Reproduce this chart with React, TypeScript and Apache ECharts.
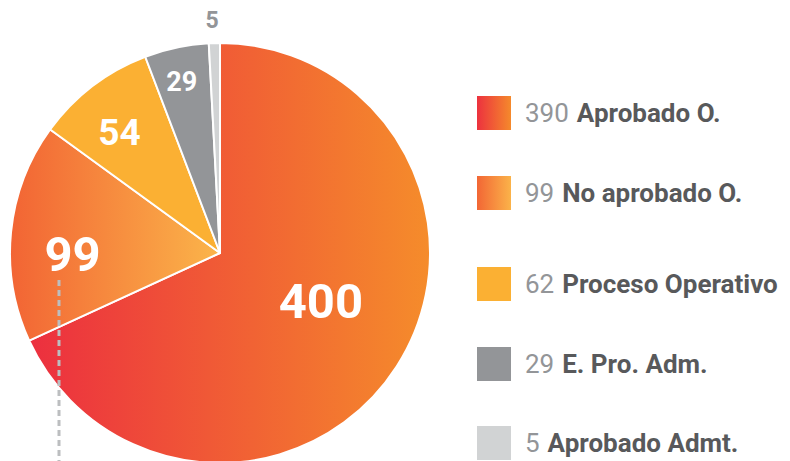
import React, { useEffect, useRef } from "react";
import * as echarts from "echarts";

const sliceNames = ["Aprobado O.", "No aprobado O.", "Proceso Operativo", "E. Pro. Adm.", "Aprobado Admt."];
const sliceValues = [400, 99, 54, 29, 5];
const legendNumbers = [390, 99, 62, 29, 5];

// layout (not data)
const legendTops = [94, 174, 265, 345, 424];
const labelShift = [
  [10, -10],
  [-40, 12],
  [-35, -35],
  [-16, -65],
  [-5, -125],
];
const labelSizes = [49, 49, 37, 27, 23];

const grad = (a: string, b: string) =>
  new echarts.graphic.LinearGradient(0, 0, 1, 0, [
    { offset: 0, color: a },
    { offset: 1, color: b },
  ]);

const FONT = "Roboto, 'Noto Sans', sans-serif";

export default function App() {
  const ref = useRef<HTMLDivElement>(null);
  useEffect(() => {
    if (!ref.current) return;
    const chart = echarts.init(ref.current, undefined, { renderer: "svg" });
    const colors = [
      grad("#ec2f3f", "#f58c2b"),
      grad("#f26434", "#fbb54a"),
      "#fbb033",
      "#939598",
      "#d1d3d4",
    ];
    const data = sliceNames.map((n, i) => ({
      name: n,
      value: sliceValues[i],
      itemStyle: { color: colors[i] },
      label: {
        color: i === 4 ? "#939598" : "#ffffff",
        fontSize: labelSizes[i],
      },
    }));
    const legends = sliceNames.map((n, i) => ({
      data: [n],
      left: 475,
      top: legendTops[i],
      padding: 0,
      orient: "vertical",
      icon: "rect",
      itemWidth: 36,
      itemHeight: 36,
      selectedMode: false,
      formatter: (name: string) => `{num|${legendNumbers[sliceNames.indexOf(name)]}}{nm|${name}}`,
      textStyle: {
        fontFamily: FONT,
        rich: {
          num: { color: "#939598", fontSize: 26, fontWeight: "normal", fontFamily: FONT, padding: [0, 8, 0, 8] },
          nm: { color: "#58595b", fontSize: 26, fontWeight: "bold", fontFamily: FONT },
        },
      },
    }));
    chart.setOption({
      animation: false,
      legend: legends,
      series: [
        {
          type: "pie",
          center: [220, 253],
          radius: [0, 210],
          startAngle: 90,
          clockwise: true,
          avoidLabelOverlap: false,
          itemStyle: { borderColor: "#ffffff", borderWidth: 2 },
          label: {
            show: true,
            position: "inside",
            formatter: "{c}",
            fontFamily: FONT,
            fontWeight: "bold",
          },
          labelLine: { show: false },
          labelLayout: (p: any) => ({ dx: labelShift[p.dataIndex][0], dy: labelShift[p.dataIndex][1] }),
          emphasis: { disabled: true },
          data,
        },
      ],
      graphic: [
        {
          type: "line",
          shape: { x1: 59, y1: 280, x2: 59, y2: 461 },
          style: { stroke: "#bcbec0", lineWidth: 3, lineDash: [6, 4] },
          z: 10,
        },
      ],
    });
    return () => chart.dispose();
  }, []);
  return (
    <div
      ref={ref}
      style={{ position: "fixed", left: 0, top: 0, width: 790, height: 461, background: "#ffffff" }}
    />
  );
}
